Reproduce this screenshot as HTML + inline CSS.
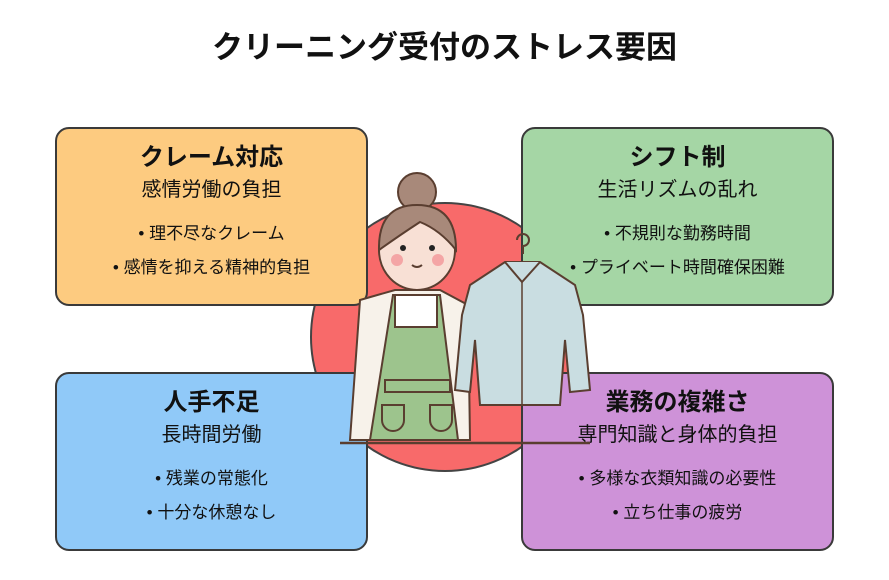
<!DOCTYPE html>
<html><head><meta charset="utf-8"><style>
body{margin:0;width:889px;height:580px;background:#fff;position:relative;overflow:hidden;font-family:"Liberation Sans","Noto Sans CJK JP",sans-serif;color:#111}
.t{position:absolute;top:28px;left:0;width:889px;text-align:center;font-size:31px;font-weight:bold;line-height:40px}
.b{position:absolute;width:309px;height:175px;border:2px solid #3a3a3a;border-radius:14px;text-align:center;box-sizing:content-box}
.b h2{margin:14px 0 0;font-size:24px;font-weight:bold;line-height:30px}
.b .s{font-size:20px;margin-top:4px;line-height:26px}
.b ul{list-style:none;margin:14px 0 0;padding:0;font-size:17px;line-height:34px}
</style></head><body>
<div class="t">クリーニング受付のストレス要因</div>
<svg style="position:absolute;left:0;top:0" width="889" height="580"><circle cx="445" cy="337" r="134" fill="#F86A6A" stroke="#444" stroke-width="2"/></svg>
<div class="b" style="left:55px;top:127px;background:#FDCB80"><h2>クレーム対応</h2><div class="s">感情労働の負担</div><ul><li>• 理不尽なクレーム</li><li>• 感情を抑える精神的負担</li></ul></div>
<div class="b" style="left:521px;top:127px;background:#A5D6A5"><h2>シフト制</h2><div class="s">生活リズムの乱れ</div><ul><li>• 不規則な勤務時間</li><li>• プライベート時間確保困難</li></ul></div>
<div class="b" style="left:55px;top:372px;background:#90C9F8"><h2>人手不足</h2><div class="s">長時間労働</div><ul><li>• 残業の常態化</li><li>• 十分な休憩なし</li></ul></div>
<div class="b" style="left:521px;top:372px;background:#CE92D8"><h2>業務の複雑さ</h2><div class="s">専門知識と身体的負担</div><ul><li>• 多様な衣類知識の必要性</li><li>• 立ち仕事の疲労</li></ul></div>
<svg style="position:absolute;left:0;top:0" width="889" height="580" stroke="#5a3e30" stroke-width="2">
<path d="M360 300 L395 290 L440 290 L468 305 L470 440 L350 440 Z" fill="#F7F2EA"/>
<path d="M393 295 L440 295 L458 440 L370 440 Z" fill="#9DC48D"/>
<rect x="395" y="295" width="42" height="32" fill="#fff"/>
<rect x="385" y="380" width="65" height="12" fill="#9DC48D"/>
<path d="M382 405 h22 v15 a11 11 0 0 1 -22 0 z" fill="#9DC48D"/>
<path d="M430 405 h22 v15 a11 11 0 0 1 -22 0 z" fill="#9DC48D"/>
<circle cx="417" cy="192" r="19" fill="#A8897A"/>
<circle cx="394" cy="252" r="10" fill="#F8DDD0"/><circle cx="441" cy="252" r="10" fill="#F8DDD0"/>
<ellipse cx="417" cy="250" rx="38" ry="40" fill="#F8E0D5"/>
<path d="M379 250 Q378 205 417 205 Q456 205 456 250 Q440 230 420 222 Q400 235 379 250 Z" fill="#A8897A"/>
<circle cx="403" cy="248" r="3" fill="#222" stroke="none"/><circle cx="432" cy="248" r="3" fill="#222" stroke="none"/>
<circle cx="397" cy="260" r="6" fill="#F4A5A5" stroke="none"/><circle cx="438" cy="260" r="6" fill="#F4A5A5" stroke="none"/>
<path d="M412 265 q5 4 10 0" fill="none"/>
<path d="M517 240 a6 6 0 1 1 6 6 v8" fill="none"/>
<path d="M505 262 L540 262 L575 285 L583 315 L590 390 L570 392 L565 340 L560 405 L480 405 L475 340 L470 392 L455 390 L462 315 L470 285 Z" fill="#C9DDE1"/>
<path d="M505 262 L522 282 L540 262" fill="#C9DDE1"/>
<line x1="522" y1="282" x2="522" y2="405" stroke-width="1.5"/>
<line x1="340" y1="443" x2="590" y2="443" stroke-width="2.5"/>
</svg>
</body></html>
